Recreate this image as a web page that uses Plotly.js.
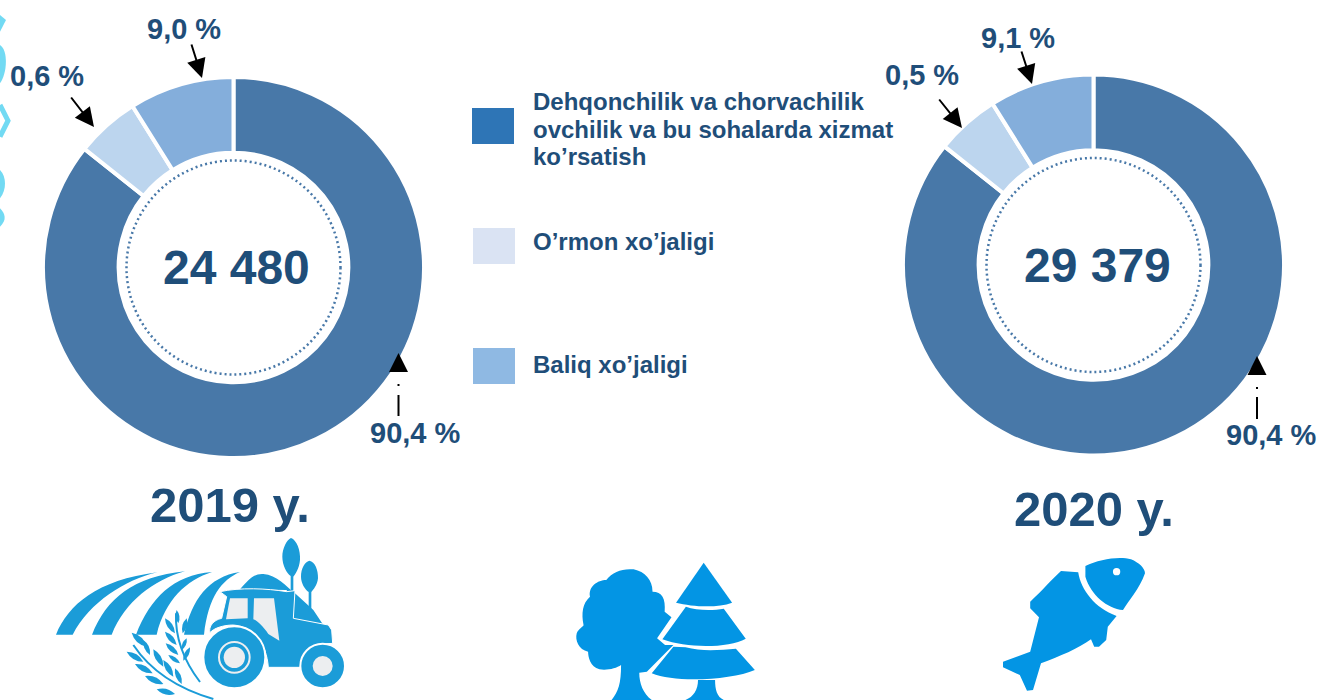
<!DOCTYPE html>
<html><head><meta charset="utf-8">
<script src="https://cdn.plot.ly/plotly-3.0.1.min.js"></script>
<style>html,body{margin:0;padding:0;background:#fff}#c{width:1320px;height:700px}</style></head>
<body><div id="c"></div><script>
// --- data ---
const categories = ["Dehqonchilik va chorvachilik ovchilik va bu sohalarda xizmat ko’rsatish", "O’rmon xo’jaligi", "Baliq xo’jaligi"];
const sliceShares2019 = [85.7, 5.4, 8.9];   // slice sizes as drawn in the picture
const sliceShares2020 = [85.7, 5.4, 8.9];
const labels2019 = ["90,4 %", "0,6 %", "9,0 %"];
const labels2020 = ["90,4 %", "0,5 %", "9,1 %"];
const totals = ["24 480", "29 379"];
const years = ["2019 y.", "2020 y."];
const legendLines = ["Dehqonchilik va chorvachilik", "ovchilik va bu sohalarda xizmat", "ko’rsatish", "O’rmon xo’jaligi", "Baliq xo’jaligi"];

// --- style / layout ---
const W = 1320, H = 700;
const TXT = "#1f4e79", FONT = '"Liberation Sans", Arial, sans-serif';
const DARK = "#4878a8", LIGHT = "#bcd5ee", MED = "#84aedb";
const px = x => x / W, py = y => 1 - y / H;
const ICON1 = "#1b9cd8", ICON2 = "#0395e4", PALE = "#eceef0", EDGE = "#72daf3";

function pie(values, cx, cy, R) {
  return {type: "pie", values, labels: categories, sort: false, direction: "clockwise", rotation: 0,
    hole: 0.603, textinfo: "none", hoverinfo: "skip", showlegend: false,
    marker: {colors: [DARK, LIGHT, MED], line: {color: "#fff", width: 4}},
    domain: {x: [px(cx - R), px(cx + R)], y: [py(cy + R), py(cy - R)]}};
}
const shapes = [], annotations = [];
function text(t, x, y, size, anchor) {
  annotations.push({text: "<b>" + t + "</b>", x: px(x), y: py(y), xref: "paper", yref: "paper", showarrow: false,
    xanchor: anchor || "center", yanchor: "middle", font: {family: FONT, size, color: TXT}});
}
function arrow(x0, y0, x1, y1) {
  annotations.push({text: "", xref: "paper", yref: "paper", x: px(x1), y: py(y1), ax: x0 - x1, ay: y0 - y1,
    axref: "pixel", ayref: "pixel", showarrow: true, arrowhead: 2, arrowsize: 1.9, arrowwidth: 2, arrowcolor: "#000"});
}
function seg(x0, y0, x1, y1) {
  shapes.push({type: "line", xref: "paper", yref: "paper", x0: px(x0), y0: py(y0), x1: px(x1), y1: py(y1),
    line: {color: "#000", width: 2}});
}
function circle(cx, cy, r, fill, lineColor, lineW, dash) {
  shapes.push({type: "circle", xref: "paper", yref: "paper", x0: px(cx - r), x1: px(cx + r), y0: py(cy + r), y1: py(cy - r),
    fillcolor: fill || "rgba(0,0,0,0)", line: {color: lineColor || "rgba(0,0,0,0)", width: lineW || 0, dash: dash || "solid"}});
}
function rect(x0, y0, x1, y1, fill) {
  shapes.push({type: "rect", xref: "paper", yref: "paper", x0: px(x0), x1: px(x1), y0: py(y1), y1: py(y0), fillcolor: fill, line: {width: 0}});
}
// icon outlines traced in a zoom crop: x' = ox + x*sx, y' = oy + y/3
function icon(d, o, fill, lineColor, lineW) {
  const path = d.replace(/(-?[\d.]+),(-?[\d.]+)/g, (m, a, b) =>
    px(+a * o.sx + o.ox).toFixed(5) + "," + py(+b / 3 + o.oy).toFixed(5));
  shapes.push({type: "path", xref: "paper", yref: "paper", path, fillcolor: fill || "rgba(0,0,0,0)",
    line: {color: lineColor || "rgba(0,0,0,0)", width: lineW || 0}});
}
function zcircle(x, y, r, o, fill, lc, lw) { circle(x * o.sx + o.ox, y / 3 + o.oy, r / 3, fill, lc, lw); }

// dotted rings
circle(233.5, 267.5, 107, null, DARK, 2.5, "2px,3px");
circle(1093.5, 265, 107, null, DARK, 2.5, "2px,3px");

// labels & arrows: 2019
text(labels2019[2], 184, 29, 29); arrow(191, 43, 202, 78);
text(labels2019[1], 47, 76, 29); arrow(70, 96, 94, 127);
text(labels2019[0], 415, 433, 29); arrow(398.5, 372, 398.5, 353); seg(398.5, 395, 398.5, 416); seg(398.5, 384, 398.5, 386);
// labels & arrows: 2020
text(labels2020[2], 1018, 38, 29); arrow(1021, 50, 1032, 84);
text(labels2020[1], 922, 75, 29); arrow(938, 98, 962, 128);
text(labels2020[0], 1271, 435, 29); arrow(1257, 375, 1257, 356); seg(1257, 397, 1257, 419); seg(1257, 387, 1257, 389);

text(totals[0], 236, 268, 48); text(totals[1], 1097, 265, 48);
text(years[0], 230, 505, 49); text(years[1], 1094, 509, 49);

// legend
rect(472, 108, 514, 144, "#2e75b6"); rect(473, 228, 515, 264, "#dae3f3"); rect(473, 348, 515, 384, "#8fb9e3");
text(legendLines[0], 531, 101, 24, "left"); text(legendLines[1], 531, 129, 24, "left"); text(legendLines[2], 531, 156, 24, "left");
text(legendLines[3], 531, 242, 24, "left"); text(legendLines[4], 531, 364, 24, "left");

// left-edge decoration
const E = {ox: 0, oy: 0, sx: 1 / 3};
icon("M0,45 L18,60 L0,95Z", E, EDGE);
icon("M0,135 C25,150 22,220 0,250Z", E, EDGE);
icon("M0,315 L24,362 L0,410", E, null, EDGE, 5);
icon("M0,510 C20,530 20,570 0,595Z", E, EDGE);
icon("M0,625 C15,640 22,660 0,680Z", E, EDGE);

// tractor icon
const T = {ox: 0, oy: 530, sx: 1 / 3};
icon("M168,314 C205,225 290,150 472,127 C375,150 270,215 218,314Z", T, ICON1);
icon("M276,314 C320,205 400,140 555,124 C460,150 375,215 335,314Z", T, ICON1);
icon("M408,314 C450,205 520,135 636,126 C560,150 495,210 470,314Z", T, ICON1);
icon("M552,314 C575,210 625,140 720,126 C665,150 625,200 612,314Z", T, ICON1);
icon("M720,178 C745,150 760,130 790,132 C830,135 860,170 885,190 L940,240 L968,282 L880,270 L860,180Z", T, ICON1);
icon("M873,24 C890,30 902,60 900,90 C898,115 885,135 880,140 L880,190 L872,190 L872,138 C860,130 847,105 847,80 C847,55 860,30 873,24Z", T, ICON1);
icon("M928,92 C945,95 955,120 954,145 C952,165 940,180 934,186 L934,245 L926,245 L926,186 C915,178 903,160 903,140 C903,115 915,95 928,92Z", T, ICON1);
// wheat
icon("M400,345 C450,420 530,475 640,507", T, null, ICON1, 2);
icon("M528,250 C525,320 550,390 600,456", T, null, ICON1, 2);
const leaves = [[395,308,440,350],[430,330,450,375],[460,358,490,410],[490,390,520,440],[525,415,545,462],
  [380,365,430,395],[405,402,458,430],[435,438,490,462],[470,478,525,492],
  [530,240,535,280],[560,265,548,310],[495,265,525,310],[495,305,530,345],[560,325,545,360],
  [497,340,535,375],[570,352,550,392],[505,375,540,400]];
leaves.forEach(l => {
  const [a, b, c, d] = l, mx = (a + c) / 2, my = (b + d) / 2, nx = (d - b) * 0.3, ny = (a - c) * 0.3;
  icon(`M${a},${b} Q${(mx + nx).toFixed(1)},${(my + ny).toFixed(1)} ${c},${d} Q${(mx - nx).toFixed(1)},${(my - ny).toFixed(1)} ${a},${b}Z`, T, ICON1);
});
// tractor body
icon("M660,185 C720,172 800,175 860,185 L885,182 L880,265 L985,285 L995,300 L998,340 C950,340 910,370 900,412 L805,412 C800,340 760,290 700,285 C670,285 640,295 630,308 C625,290 640,270 665,265 L680,200Z", T, ICON1, "#fff", 1);
icon("M690,205 L743,205 L743,265 L678,268Z", T, PALE);
icon("M762,205 L822,205 L838,332 L805,312 C790,290 772,272 760,268Z", T, PALE);
zcircle(703, 382, 93, T, ICON1, "#fff", 2);
zcircle(703, 382, 46, T, ICON1, PALE, 2);
zcircle(703, 382, 32, T, PALE);
zcircle(968, 408, 67, T, ICON1, "#fff", 2);
zcircle(968, 408, 30, T, PALE);

// trees icon
const F = {ox: 550.2, oy: 540, sx: 0.379};
icon("M162,480 C180,455 187,430 187,375 C175,385 150,392 130,388 C105,380 100,350 100,335 C75,330 65,300 70,280 C75,265 88,260 88,255 C82,220 85,190 105,170 C100,140 125,120 148,120 C165,95 190,85 220,88 C250,95 270,120 270,155 C295,155 305,175 302,215 L320,232 L282,295 L303,315 L325,315 L255,395 L235,398 C235,430 245,460 268,480Z", F, ICON2);
icon("M405,68 L480,188 C440,205 375,200 332,188Z", F, ICON2);
icon("M358,200 C385,212 430,212 458,206 L516,296 C470,325 360,325 296,298Z", F, ICON2);
icon("M325,320 L357,322 C400,335 450,330 490,326 L540,390 C480,420 330,430 268,400Z", F, ICON2);
icon("M390,420 L435,420 C435,450 440,470 458,480 L357,480 C378,470 390,450 390,420Z", F, ICON2);

// fish icon
const P = {ox: 543, oy: 540, sx: 0.4};
icon("M1356,78 C1390,58 1440,48 1470,58 C1490,68 1505,85 1505,100 C1490,150 1465,180 1450,210 C1410,205 1370,165 1356,110Z", P, ICON2);
zcircle(1434, 95, 11, P, "#fff");
icon("M1295,93 L1338,97 C1345,150 1380,205 1434,228 L1412,260 L1408,300 L1390,320 L1378,320 L1370,298 C1340,325 1290,350 1245,370 L1225,450 L1210,452 L1192,405 L1150,382 L1150,365 L1218,335 L1240,232 L1218,205 L1218,185 C1250,150 1270,120 1295,93Z", P, ICON2);

Plotly.newPlot("c", [
  pie(sliceShares2019, 233.5, 267.5, 190.5),
  pie(sliceShares2020, 1093.5, 265, 190.5)
], {
  width: W, height: H, margin: {l: 0, r: 0, t: 0, b: 0}, paper_bgcolor: "#fff", showlegend: false,
  shapes, annotations
}, {displayModeBar: false, staticPlot: true});
</script></body></html>
